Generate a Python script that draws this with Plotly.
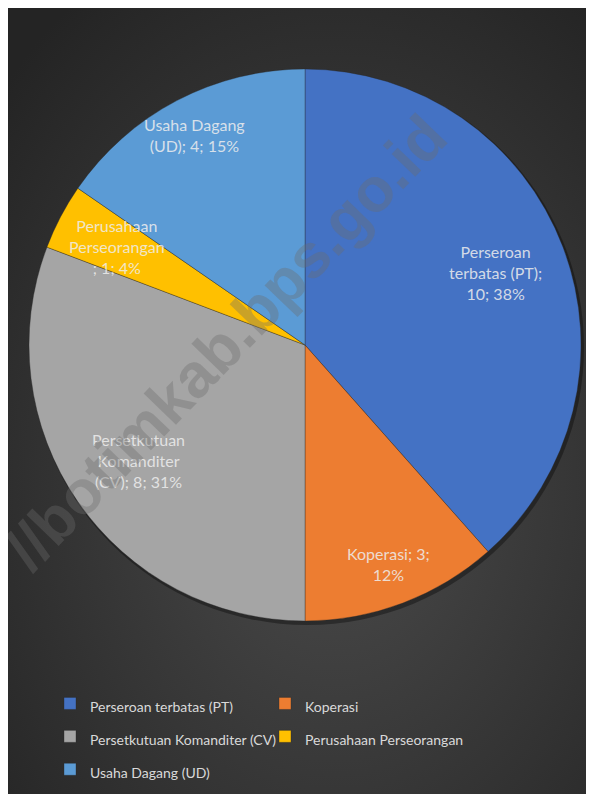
import base64
import math
import plotly.graph_objects as go

# data
labels = ["Perseroan terbatas (PT)", "Koperasi", "Persetkutuan Komanditer (CV)",
          "Perusahaan Perseorangan", "Usaha Dagang (UD)"]
values = [10, 3, 8, 1, 4]
slice_text = ["Perseroan<br>terbatas (PT);<br>10; 38%",
              "Koperasi; 3;<br>12%",
              "Persetkutuan<br>Komanditer<br>(CV); 8; 31%",
              "Perusahaan<br>Perseorangan<br>; 1; 4%",
              "Usaha Dagang<br>(UD); 4; 15%"]
colors = ["#4472C4", "#ED7D31", "#A5A5A5", "#FFC000", "#5B9BD5"]
label_r = [0.74, 0.85, 0.735, 0.77, 0.86]  # radial spot of each data label

W, H = 594, 794
PIE_CX, PIE_CY, PIE_R = 297, 337, 276  # px, from top-left of the figure

# background: dark radial gradient
svg = '''<svg xmlns="http://www.w3.org/2000/svg" width="594" height="794" viewBox="0 0 594 794" preserveAspectRatio="none">
<defs><radialGradient id="g" cx="55%" cy="60%" r="75%">
<stop offset="0" stop-color="#4b4b4b"/><stop offset="1" stop-color="#242424"/></radialGradient></defs>
<rect width="594" height="794" fill="url(#g)"/></svg>'''
bg_src = "data:image/svg+xml;base64," + base64.b64encode(svg.encode()).decode()

fig = go.Figure()
fig.add_trace(go.Pie(
    labels=[f"<span style='font-size:14px'>{l}</span>" for l in labels],
    values=values, sort=False, direction="clockwise", rotation=0,
    marker=dict(colors=colors, line=dict(color="rgba(40,40,40,0.6)", width=0.6)),
    textinfo="none", hoverinfo="value+percent",
    domain=dict(x=[(PIE_CX - PIE_R) / W, (PIE_CX + PIE_R) / W],
                y=[1 - (PIE_CY + PIE_R) / H, 1 - (PIE_CY - PIE_R) / H]),
))

# data labels placed at the middle angle of each slice
annotations = []
total = sum(values)
start = 0
for txt, v, f in zip(slice_text, values, label_r):
    mid = (start + v / 2) / total * 2 * math.pi
    start += v
    px_x = PIE_CX + f * PIE_R * math.sin(mid)
    px_y = PIE_CY - f * PIE_R * math.cos(mid)
    annotations.append(dict(
        x=px_x / W, y=1 - px_y / H, xref="paper", yref="paper", text=txt,
        xanchor="center", yanchor="middle", showarrow=False, align="center",
        font=dict(family="Lato", size=16, color="rgba(238,238,238,0.85)")))

# watermark
annotations.append(dict(
    x=217 / W, y=1 - 334 / H, xref="paper", yref="paper",
    xanchor="center", yanchor="middle",
    text="<b>//botimkab.bps.go.id</b>", textangle=-46, showarrow=False,
    font=dict(family="Liberation Sans", size=62, color="rgba(108,108,108,0.36)")))

# soft drop shadow under the pie
shadow = dict(type="circle", xref="paper", yref="paper", layer="below",
              x0=(PIE_CX - PIE_R + 1) / W, x1=(PIE_CX + PIE_R + 3) / W,
              y0=1 - (PIE_CY + PIE_R + 4) / H, y1=1 - (PIE_CY - PIE_R + 1) / H,
              fillcolor="rgba(0,0,0,0.35)", line=dict(width=0))

fig.update_layout(
    width=W, height=H,
    margin=dict(l=0, r=0, t=0, b=0),
    paper_bgcolor="#2a2a2a",
    images=[dict(source=bg_src, xref="paper", yref="paper", x=0, y=1,
                 sizex=1, sizey=1, sizing="stretch",
                 xanchor="left", yanchor="top", layer="below")],
    shapes=[shadow],
    annotations=annotations,
    showlegend=True,
    legend=dict(orientation="h", x=42 / W, y=1 - 674 / H, xanchor="left", yanchor="top",
                entrywidth=170, entrywidthmode="pixels", itemwidth=30,
                font=dict(family="Lato", size=23, color="#d9d9d9"),
                bgcolor="rgba(0,0,0,0)"),
)

fig.write_html("out.html")
